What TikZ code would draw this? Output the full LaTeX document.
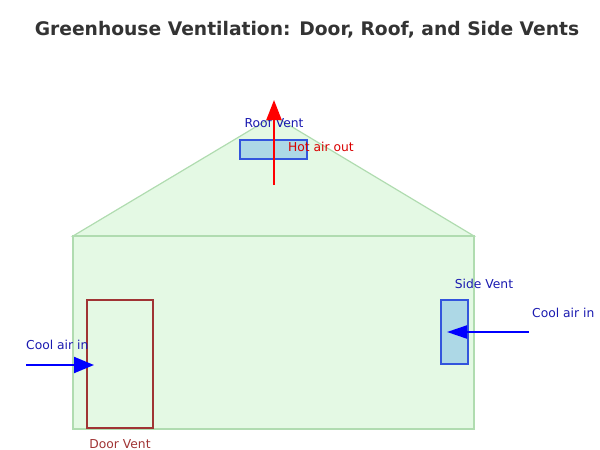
\documentclass[tikz,border=0pt]{standalone}
\usepackage{fontspec}
\setmainfont{DejaVu Sans}
\usetikzlibrary{arrows.meta}
\definecolor{wallfill}{HTML}{E4F9E4}
\definecolor{walledge}{HTML}{B0DCB0}
\definecolor{ventfill}{HTML}{ADD8E6}
\definecolor{ventedge}{HTML}{3355DD}
\definecolor{labelblue}{HTML}{1A1AB0}
\definecolor{doorred}{HTML}{A03434}
\definecolor{titlegray}{HTML}{333333}
\tikzset{
  wall/.style={fill=wallfill, draw=walledge, line width=1.2pt},
  vent/.style={fill=ventfill, draw=ventedge, line width=1.2pt},
  lbl/.style={font=\fontsize{12.3}{14}\selectfont, inner sep=0pt},
  flow/.style={line width=2pt, -{Triangle[length=20pt,width=16pt]}},
}
\begin{document}
\begin{tikzpicture}[x=1pt,y=-1pt]
\useasboundingbox (0,0) rectangle (600,450);
\node[font=\fontsize{18.7}{22}\selectfont\bfseries, text=titlegray] (title) at (307,30) {Greenhouse Ventilation: Door, Roof, and Side Vents};
% roof
\draw[wall] (73,236) -- (274,116) -- (474,236) -- cycle;
% body
\draw[wall] (73,236) rectangle (474,429);
% door
\draw[draw=doorred, line width=1.3pt] (87,300) rectangle (153,428);
\node[lbl, text=doorred] (doorlbl) at (120,444) {Door Vent};
% roof vent
\draw[vent] (240,140) rectangle (307,159);
\node[lbl, text=labelblue] (rooflbl) at (274,123) {Roof Vent};
% side vent
\draw[vent] (441,300) rectangle (468,364);
\node[lbl, text=labelblue] (sidelbl) at (484,284) {Side Vent};
% hot air arrow
\coordinate (hotA) at (274,185);
\coordinate (hotB) at (274,100);
\draw[flow, red, -{Triangle[length=20pt,width=15pt]}] (hotA) -- (hotB);
\node[lbl, text=red!85!black, anchor=west] (hotlbl) at (288,147) {Hot air out};
% cool air left
\coordinate (coolLA) at (26,365);
\coordinate (coolLB) at (94,365);
\draw[flow, blue] (coolLA) -- (coolLB);
\node[lbl, text=labelblue, anchor=west] (coolLlbl) at (26,345) {Cool air in};
% cool air right
\coordinate (coolRA) at (529,332);
\coordinate (coolRB) at (447,332);
\draw[flow, blue, -{Triangle[length=20pt,width=13pt]}] (coolRA) -- (coolRB);
\node[lbl, text=labelblue, anchor=west] (coolRlbl) at (532,313) {Cool air in};
\end{tikzpicture}
\end{document}
